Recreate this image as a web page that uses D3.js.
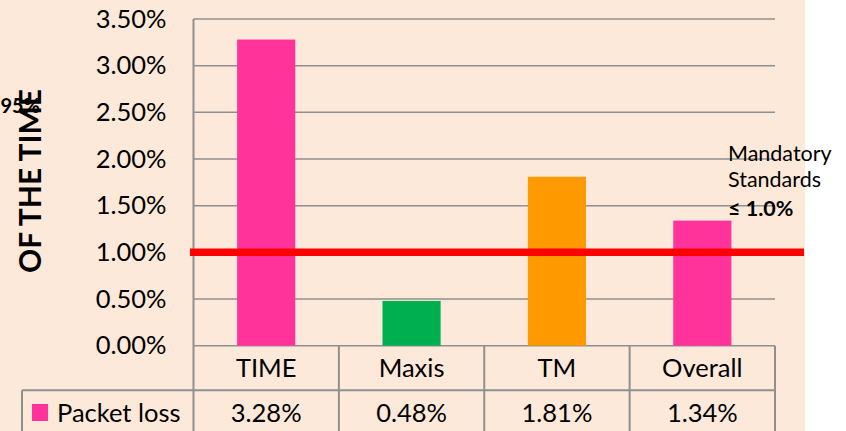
<!DOCTYPE html>
<html>
<head>
<meta charset="utf-8">
<script src="https://cdn.jsdelivr.net/npm/d3@7"></script>
<style>
  body { margin: 0; background: #fff; }
  svg text { font-family: Lato, "Noto Sans", sans-serif; fill: #000; }
</style>
</head>
<body>
<div class="chart"></div>
<script>
var svgWidth = 846;
var svgHeight = 431;

// data
var categories = ["TIME", "Maxis", "TM", "Overall"];
var packetLoss = [0.0328, 0.0048, 0.0181, 0.0134];
var barColors = ["#FF3399", "#00B050", "#FF9900", "#FF3399"];
var tickValues = [0, 0.005, 0.01, 0.015, 0.02, 0.025, 0.03, 0.035];
var seriesName = "Packet loss";
var standardValue = 0.01;
var standardLines = ["Mandatory", "Standards", "\u2264 1.0%"];

var plot = { left: 193.5, right: 775, top: 19, bottom: 345.7 };
var rowH = 44.6;
var labelSize = 25.5;

var svg = d3.select(".chart")
  .append("svg")
  .attr("width", svgWidth)
  .attr("height", svgHeight);

// peach background
svg.append("rect")
  .attr("x", 0).attr("y", 0)
  .attr("width", 805).attr("height", svgHeight)
  .attr("fill", "#FDE9D9");

var x = d3.scaleBand()
  .domain(categories)
  .range([plot.left, plot.right])
  .paddingInner(0.6)
  .paddingOuter(0.3);

var y = d3.scaleLinear()
  .domain([0, 0.035])
  .range([plot.bottom, plot.top]);

var fmt = d3.format(".2%");
var gridColor = "#8f8f8f";

// gridlines
svg.append("g")
  .selectAll("line")
  .data(tickValues)
  .enter()
  .append("line")
  .attr("x1", plot.left)
  .attr("x2", plot.right)
  .attr("y1", d => y(d))
  .attr("y2", d => y(d))
  .attr("stroke", gridColor)
  .attr("stroke-width", 1.5);

// y axis, tick text only
var leftAxis = d3.axisLeft(y)
  .tickValues(tickValues)
  .tickFormat(fmt)
  .tickSize(0)
  .tickPadding(27);

var yAxis = svg.append("g")
  .attr("transform", `translate(${plot.left}, 0)`)
  .call(leftAxis);
yAxis.select(".domain").remove();
yAxis.selectAll("text")
  .style("font-family", "Lato, sans-serif")
  .attr("font-size", labelSize)
  .attr("fill", "#000");

// bars
svg.append("g")
  .selectAll("rect")
  .data(packetLoss)
  .enter()
  .append("rect")
  .attr("x", (d, i) => x(categories[i]))
  .attr("width", x.bandwidth())
  .attr("y", d => y(d))
  .attr("height", d => plot.bottom - y(d))
  .attr("fill", (d, i) => barColors[i]);

// vertical axis line down through the table
svg.append("line")
  .attr("x1", plot.left).attr("x2", plot.left)
  .attr("y1", plot.top).attr("y2", svgHeight)
  .attr("stroke", gridColor)
  .attr("stroke-width", 2);

// table lines
var colEdges = categories.map((c, i) => plot.left + i * x.step());
colEdges.push(plot.right);

var table = svg.append("g");
table.selectAll("line.col")
  .data(colEdges.slice(1))
  .enter()
  .append("line")
  .attr("x1", d => d).attr("x2", d => d)
  .attr("y1", plot.bottom).attr("y2", svgHeight)
  .attr("stroke", gridColor)
  .attr("stroke-width", 2);

table.append("line")
  .attr("x1", 22).attr("x2", plot.right)
  .attr("y1", plot.bottom + rowH).attr("y2", plot.bottom + rowH)
  .attr("stroke", gridColor)
  .attr("stroke-width", 2);

table.append("line")
  .attr("x1", 22).attr("x2", 22)
  .attr("y1", plot.bottom + rowH).attr("y2", svgHeight)
  .attr("stroke", gridColor)
  .attr("stroke-width", 2);

// category labels
table.selectAll("text.cat")
  .data(categories)
  .enter()
  .append("text")
  .attr("x", d => x(d) + x.bandwidth() / 2)
  .attr("y", plot.bottom + rowH / 2)
  .attr("dy", "0.35em")
  .attr("text-anchor", "middle")
  .attr("font-size", labelSize)
  .text(d => d);

// value labels
table.selectAll("text.val")
  .data(packetLoss)
  .enter()
  .append("text")
  .attr("x", (d, i) => x(categories[i]) + x.bandwidth() / 2)
  .attr("y", plot.bottom + rowH * 1.5)
  .attr("dy", "0.35em")
  .attr("text-anchor", "middle")
  .attr("font-size", labelSize)
  .text(d => fmt(d));

// legend key
table.append("rect")
  .attr("x", 32).attr("y", 404)
  .attr("width", 16).attr("height", 17)
  .attr("fill", barColors[0]);

table.append("text")
  .attr("x", 57)
  .attr("y", plot.bottom + rowH * 1.5)
  .attr("dy", "0.35em")
  .attr("font-size", labelSize)
  .text(seriesName);

// mandatory standard line
svg.append("line")
  .attr("x1", 190).attr("x2", 804)
  .attr("y1", y(standardValue)).attr("y2", y(standardValue))
  .attr("stroke", "#FF0000")
  .attr("stroke-width", 7.5);

var note = svg.append("text")
  .attr("x", 728)
  .attr("font-size", 21.5);
note.selectAll("tspan")
  .data(standardLines)
  .enter()
  .append("tspan")
  .attr("x", 728)
  .attr("y", (d, i) => [161, 187, 216][i])
  .attr("font-weight", (d, i) => i === 2 ? "bold" : "normal")
  .text(d => d);

// y axis title, clipped at the left edge
svg.append("text")
  .attr("x", 40)
  .attr("y", 113)
  .attr("text-anchor", "end")
  .attr("font-size", 20)
  .attr("font-weight", "bold")
  .text("95%");

svg.append("text")
  .attr("transform", "translate(41, 181) rotate(-90)")
  .attr("text-anchor", "middle")
  .attr("font-size", 30)
  .attr("font-weight", "bold")
  .text("OF THE TIME");
</script>
</body>
</html>
